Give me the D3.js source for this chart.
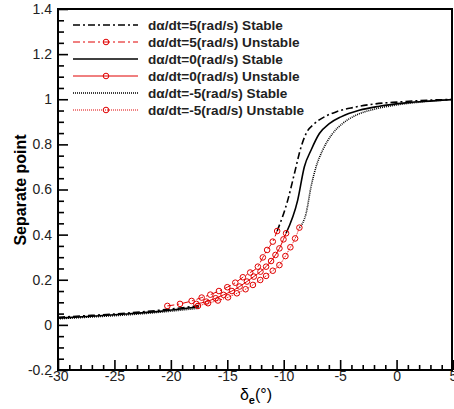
<!DOCTYPE html>
<html>
<head>
<meta charset="utf-8">
<script src="https://cdn.jsdelivr.net/npm/d3@7"></script>
<style>
  body { margin: 0; background: #fff; }
  svg { font-family: 'Liberation Sans', Arial, sans-serif; }
</style>
</head>
<body>
<div id="graf"></div>
<script>
// datos
const xTicks = [-30, -25, -20, -15, -10, -5, 0, 5]
const yTicks = [-0.2, 0, 0.2, 0.4, 0.6, 0.8, 1, 1.2, 1.4]

// rama inferior estable (negro)
const low5  = [[-30, 0.034], [-27, 0.042], [-24, 0.052], [-21, 0.065], [-17.5, 0.085]]
const low0  = [[-30, 0.030], [-27, 0.038], [-24, 0.048], [-21, 0.060], [-17.5, 0.080]]
const lowM5 = [[-30, 0.027], [-27, 0.035], [-24, 0.044], [-21, 0.056], [-17.5, 0.074]]

// rama superior estable (negro)
const up5 = [[-10.58, 0.416], [-9.64, 0.553], [-9.05, 0.671], [-8.46, 0.789], [-8.02, 0.848],
  [-7.28, 0.892], [-6.40, 0.922], [-5.37, 0.944], [-3.90, 0.963], [-2.13, 0.978],
  [0.23, 0.988], [2.88, 0.996], [5, 0.999]]
const up0 = [[-9.79, 0.406], [-8.76, 0.553], [-8.17, 0.701], [-7.58, 0.774], [-6.84, 0.848],
  [-5.96, 0.892], [-4.93, 0.922], [-3.31, 0.951], [-1.54, 0.969], [0.82, 0.984],
  [3.17, 0.993], [5, 0.999]]
const upM5 = [[-8.61, 0.431], [-8.02, 0.494], [-7.58, 0.612], [-7.13, 0.701], [-6.55, 0.774],
  [-5.67, 0.848], [-4.79, 0.892], [-3.61, 0.929], [-2.13, 0.954], [-0.36, 0.972],
  [2.0, 0.987], [5, 0.999]]

// rama inestable (rojo, con marcadores)
const uns5 = [[-20.31, 0.084], [-19.19, 0.093], [-18.16, 0.106], [-17.27, 0.121], [-16.50, 0.134],
  [-15.74, 0.150], [-15.00, 0.167], [-14.29, 0.187], [-13.62, 0.211], [-12.97, 0.232],
  [-12.29, 0.258], [-11.85, 0.299], [-11.47, 0.332], [-10.97, 0.369], [-10.58, 0.416]]
const uns0 = [[-17.74, 0.093], [-16.86, 0.103], [-16.03, 0.118], [-15.33, 0.133], [-14.59, 0.150],
  [-13.91, 0.170], [-13.26, 0.192], [-12.65, 0.214], [-12.06, 0.236], [-11.56, 0.258],
  [-11.12, 0.283], [-10.73, 0.310], [-10.38, 0.339], [-10.02, 0.379], [-9.79, 0.406]]
const unsM5 = [[-17.60, 0.084], [-16.71, 0.096], [-15.83, 0.108], [-14.94, 0.122], [-14.15, 0.140],
  [-13.38, 0.158], [-12.73, 0.177], [-12.08, 0.199], [-11.56, 0.217], [-10.97, 0.240],
  [-10.38, 0.265], [-9.85, 0.305], [-9.41, 0.344], [-8.99, 0.383], [-8.61, 0.431]]

const legendLabels = ['dα/dt=5(rad/s) Stable', 'dα/dt=5(rad/s) Unstable',
  'dα/dt=0(rad/s) Stable', 'dα/dt=0(rad/s) Unstable',
  'dα/dt=-5(rad/s) Stable', 'dα/dt=-5(rad/s) Unstable']

// estilos de linea
const dashDot = '7,3,2,3'
const dotted = '1,1'
const styles = [
  { color: '#000', dash: dashDot, marker: false },
  { color: '#e00000', dash: dashDot, marker: true },
  { color: '#000', dash: null, marker: false },
  { color: '#e00000', dash: null, marker: true },
  { color: '#000', dash: dotted, marker: false },
  { color: '#e00000', dash: dotted, marker: true }
]

// configuracion
const ancho_total = 454, alto_total = 409
const margins = { top: 9, left: 58, right: 1, bottom: 39 }
const ancho = ancho_total - margins.left - margins.right
const alto = alto_total - margins.top - margins.bottom

const svg = d3.select('#graf').append('svg')
  .attr('width', ancho_total)
  .attr('height', alto_total)

const g = svg.append('g')
  .attr('transform', `translate(${margins.left}, ${margins.top})`)

const x = d3.scaleLinear().domain([-30, 5]).range([0, ancho])
const y = d3.scaleLinear().domain([-0.2, 1.4]).range([alto, 0])

// ticks menores
const xMinor = d3.range(-30, 5.01, 1).filter(d => d % 5 !== 0)
const yMinor = d3.range(-0.2, 1.401, 0.05).map(d => +d.toFixed(2))
  .filter(d => Math.abs(Math.round(d * 5) - d * 5) > 1e-6)

const xAxis = g.append('g').attr('transform', `translate(0, ${alto})`)
  .call(d3.axisBottom(x).tickValues(xTicks).tickSize(-10).tickPadding(4).tickFormat(d => d))
xAxis.append('g').call(d3.axisBottom(x).tickValues(xMinor).tickSize(-5).tickFormat(''))

const yAxis = g.append('g')
  .call(d3.axisLeft(y).tickValues(yTicks).tickSize(-10).tickPadding(6).tickFormat(d => d))
yAxis.append('g').call(d3.axisLeft(y).tickValues(yMinor).tickSize(-6).tickFormat(''))

svg.selectAll('.domain').remove()
svg.selectAll('.tick line').attr('stroke', '#000').attr('stroke-width', 1.6)
svg.selectAll('.tick text').attr('font-size', 14).attr('fill', '#222')
  .attr('font-family', "'Liberation Sans', Arial, sans-serif")
xAxis.selectAll('.tick text').attr('dy', '0.5em')

// marco
g.append('rect')
  .attr('x', 0).attr('y', 0)
  .attr('width', ancho - 1).attr('height', alto)
  .attr('fill', 'none').attr('stroke', '#000').attr('stroke-width', 2)

// curvas
const line = d3.line().x(d => x(d[0])).y(d => y(d[1])).curve(d3.curveMonotoneX)

const series = [
  { data: [low5, up5], st: styles[0] },
  { data: [uns5], st: styles[1] },
  { data: [low0, up0], st: styles[2] },
  { data: [uns0], st: styles[3] },
  { data: [lowM5, upM5], st: styles[4] },
  { data: [unsM5], st: styles[5] }
]

series.forEach(s => {
  s.data.forEach(arr => {
    g.append('path')
      .attr('d', line(arr))
      .attr('fill', 'none')
      .attr('stroke', s.st.color)
      .attr('stroke-width', s.st.marker ? 1 : 1.6)
      .attr('stroke-dasharray', s.st.dash)
    if (s.st.marker) {
      g.selectAll(null).data(arr).enter().append('circle')
        .attr('cx', d => x(d[0]))
        .attr('cy', d => y(d[1]))
        .attr('r', 2.8)
        .attr('fill', 'none')
        .attr('stroke', s.st.color)
        .attr('stroke-width', 1)
    }
  })
})

// Leyenda
legendLabels.forEach((d, i) => {
  const st = styles[i]
  const ly = 25 + i * 17
  svg.append('line')
    .attr('x1', 73).attr('x2', 138)
    .attr('y1', ly).attr('y2', ly)
    .attr('stroke', st.color)
    .attr('stroke-width', st.marker ? 1 : 1.6)
    .attr('stroke-dasharray', st.dash)
  if (st.marker) {
    svg.append('circle')
      .attr('cx', 106).attr('cy', ly).attr('r', 2.8)
      .attr('fill', 'none').attr('stroke', st.color)
  }
  svg.append('text')
    .attr('x', 148).attr('y', ly)
    .attr('dy', '0.35em')
    .attr('font-size', 13.6)
    .attr('font-weight', 'bold')
    .attr('fill', '#222')
    .text(d)
})

// titulos de ejes
svg.append('text')
  .attr('transform', 'translate(20, 190) rotate(-90)')
  .attr('text-anchor', 'middle')
  .attr('dy', '0.35em')
  .attr('font-size', 16)
  .attr('font-weight', 'bold')
  .text('Separate point')

const xt = svg.append('text')
  .attr('x', 256).attr('y', 400)
  .attr('text-anchor', 'middle')
  .attr('font-size', 16)
xt.append('tspan').text('δ')
xt.append('tspan').attr('dy', 4).attr('font-size', 11).attr('font-weight', 'bold').text('e')
xt.append('tspan').attr('dy', -4).text('(°)')
</script>
</body>
</html>
